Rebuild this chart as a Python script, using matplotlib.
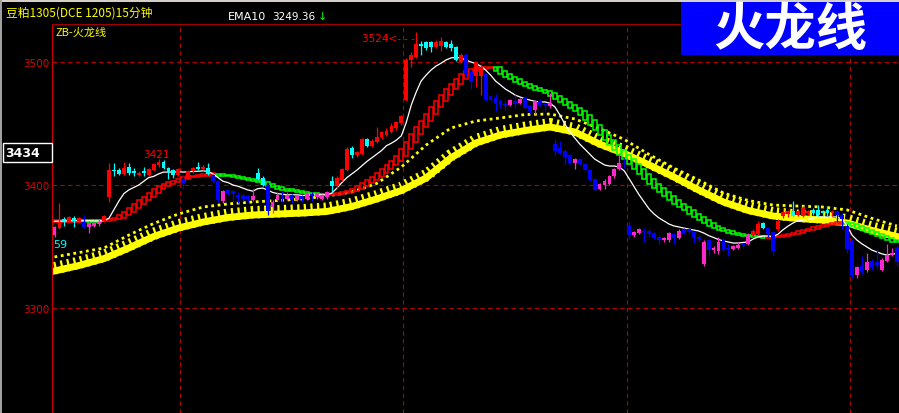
"""
豆粕1305 15分钟 K线 + 火龙线, redrawn from the screenshot
"""

import numpy as np
import matplotlib.pyplot as plt
from matplotlib.patches import Rectangle

# candles (one per 15 min bar)
opens = [3359, 3365, 3372, 3370, 3373, 3371, 3370, 3366, 3367, 3368, 3371,
         3390, 3412, 3412, 3409, 3415, 3411, 3408, 3411, 3408, 3412,
         3416, 3419, 3414, 3412, 3408, 3405, 3406, 3411, 3415, 3413,
         3414, 3408, 3403, 3387, 3396, 3395, 3392, 3392, 3391, 3388,
         3410, 3406, 3400, 3382, 3388, 3392, 3389, 3392, 3388, 3391,
         3389, 3393, 3390, 3389, 3390, 3403, 3399, 3404, 3412, 3430,
         3424, 3425, 3437, 3432, 3435, 3439, 3441, 3443, 3446, 3450,
         3469, 3502, 3504, 3515, 3516, 3516, 3512, 3513, 3516, 3515,
         3512, 3500, 3506, 3492, 3489, 3489, 3490, 3472, 3471, 3468,
         3466, 3465, 3468, 3467, 3471, 3464, 3461, 3468, 3466, 3464,
         3433, 3430, 3428, 3424, 3418, 3421, 3417, 3412, 3405, 3397,
         3400, 3401, 3407, 3413, 3418, 3367, 3359, 3361, 3363, 3363,
         3361, 3358, 3355, 3355, 3360, 3357, 3364, 3364, 3362, 3358,
         3336, 3355, 3347, 3346, 3355, 3349, 3348, 3349, 3352, 3352,
         3359, 3360, 3369, 3365, 3362, 3364, 3375, 3377, 3379, 3376,
         3375, 3377, 3380, 3380, 3379, 3380, 3377, 3379, 3376, 3367,
         3354, 3327, 3334, 3331, 3338, 3337, 3331, 3338, 3343, 3349]
highs = [3367, 3385, 3374, 3375, 3375, 3374, 3376, 3370, 3370, 3372, 3376,
         3418, 3418, 3414, 3419, 3418, 3414, 3411, 3415, 3414, 3418,
         3421, 3420, 3415, 3413, 3414, 3408, 3412, 3415, 3419, 3416,
         3418, 3409, 3404, 3396, 3397, 3396, 3394, 3393, 3392, 3397,
         3414, 3407, 3401, 3388, 3394, 3395, 3394, 3393, 3392, 3392,
         3395, 3394, 3394, 3393, 3395, 3407, 3407, 3414, 3431, 3432,
         3428, 3438, 3438, 3437, 3447, 3444, 3446, 3450, 3452, 3457,
         3503, 3508, 3524, 3517, 3517, 3517, 3518, 3520, 3517, 3518,
         3513, 3507, 3507, 3494, 3501, 3498, 3491, 3473, 3474, 3470,
         3468, 3470, 3473, 3471, 3472, 3465, 3469, 3470, 3467, 3475,
         3437, 3436, 3429, 3425, 3422, 3422, 3418, 3413, 3406, 3402,
         3405, 3408, 3414, 3426, 3422, 3371, 3363, 3365, 3365, 3364,
         3362, 3359, 3358, 3362, 3361, 3364, 3365, 3365, 3363, 3359,
         3355, 3356, 3350, 3358, 3357, 3352, 3351, 3354, 3353, 3361,
         3364, 3371, 3370, 3366, 3363, 3372, 3381, 3380, 3387, 3380,
         3383, 3380, 3381, 3384, 3380, 3383, 3380, 3380, 3377, 3368,
         3356, 3334, 3342, 3345, 3340, 3348, 3341, 3352, 3349, 3351]
lows = [3358, 3364, 3367, 3369, 3366, 3369, 3365, 3361, 3366, 3367, 3370,
        3386, 3407, 3408, 3408, 3408, 3407, 3407, 3407, 3407, 3411,
        3415, 3413, 3405, 3406, 3407, 3397, 3405, 3410, 3412, 3412,
        3408, 3402, 3386, 3385, 3392, 3386, 3385, 3387, 3386, 3387,
        3404, 3399, 3376, 3377, 3387, 3386, 3388, 3385, 3387, 3386,
        3388, 3387, 3389, 3388, 3389, 3394, 3397, 3403, 3411, 3422,
        3423, 3424, 3431, 3431, 3434, 3437, 3440, 3442, 3445, 3449,
        3468, 3496, 3503, 3506, 3510, 3508, 3511, 3509, 3511, 3509,
        3501, 3499, 3489, 3478, 3480, 3473, 3468, 3468, 3460, 3463,
        3461, 3464, 3463, 3466, 3462, 3458, 3458, 3464, 3460, 3463,
        3424, 3425, 3416, 3417, 3413, 3416, 3411, 3403, 3395, 3396,
        3397, 3400, 3406, 3412, 3414, 3356, 3358, 3360, 3354, 3358,
        3356, 3352, 3354, 3354, 3352, 3356, 3360, 3361, 3353, 3354,
        3334, 3342, 3345, 3344, 3346, 3342, 3347, 3348, 3349, 3351,
        3358, 3359, 3364, 3358, 3343, 3363, 3373, 3374, 3374, 3375,
        3374, 3376, 3376, 3375, 3375, 3375, 3375, 3370, 3364, 3345,
        3324, 3324, 3328, 3329, 3331, 3332, 3330, 3337, 3342, 3334]
closes = [3366, 3370, 3371, 3374, 3371, 3373, 3366, 3369, 3369, 3370, 3375,
          3412, 3411, 3409, 3414, 3410, 3410, 3410, 3410, 3413, 3417,
          3419, 3414, 3410, 3408, 3413, 3402, 3411, 3414, 3413, 3415,
          3409, 3403, 3388, 3395, 3393, 3393, 3390, 3389, 3389, 3391,
          3405, 3400, 3379, 3386, 3392, 3389, 3392, 3388, 3391, 3389,
          3393, 3391, 3393, 3392, 3394, 3399, 3406, 3413, 3429, 3424,
          3427, 3437, 3432, 3436, 3439, 3443, 3444, 3448, 3451, 3456,
          3502, 3506, 3515, 3513, 3511, 3512, 3516, 3517, 3512, 3511,
          3502, 3506, 3490, 3484, 3500, 3496, 3469, 3469, 3467, 3465,
          3464, 3469, 3466, 3470, 3463, 3460, 3468, 3465, 3465, 3467,
          3428, 3426, 3423, 3418, 3421, 3417, 3412, 3404, 3396, 3401,
          3403, 3407, 3413, 3418, 3417, 3359, 3362, 3364, 3362, 3360,
          3357, 3355, 3357, 3361, 3357, 3363, 3361, 3362, 3357, 3356,
          3354, 3347, 3349, 3354, 3348, 3348, 3350, 3351, 3351, 3359,
          3363, 3368, 3365, 3360, 3346, 3371, 3378, 3379, 3375, 3379,
          3381, 3379, 3377, 3376, 3377, 3377, 3379, 3376, 3372, 3348,
          3326, 3333, 3330, 3337, 3333, 3334, 3339, 3343, 3345, 3337]
# r = red, c = cyan, b = blue, m = magenta
candle_cols = ("mrcrcrbmmmr" "rccrccrcrr" "rcccrbrrcr" "cbbmbbbbbm"
               "ccbmmbmbmb" "mbmmmcrrrc" "rrcrrrrrrr" "rrrcccrrcc"
               "crbbrrbbbb" "bmbmbbmbbm" "bbbbmbbbbm" "mmmmbbmmbb"
               "bbmmbmbbbb" "mbmmbbmmbm" "rrcbbrrrcr" "rrccccrbbb"
               "bmbmbbmmmb")

# thin white line
fast_line = [3370.5, 3370.6, 3370.7, 3370.9, 3371.0, 3371.1, 3371.0, 3370.9, 3370.8, 3370.8, 3371.0,
             3373, 3380, 3387, 3393, 3396, 3398, 3400, 3403, 3406, 3407,
             3409, 3410.5, 3410.5, 3410.5, 3410.8, 3410.5, 3410.8, 3411, 3411.2, 3411.5,
             3411, 3409, 3406, 3403, 3402, 3400, 3399, 3397.5, 3396, 3395,
             3397, 3397.5, 3396, 3394, 3393, 3392.5, 3392, 3392, 3392, 3391.5,
             3391.5, 3392, 3392, 3392, 3392, 3393.5, 3397.5, 3402, 3406, 3409,
             3412, 3415.5, 3419, 3422, 3425, 3428, 3432, 3434, 3436.5, 3440,
             3451, 3465, 3475.6, 3484.6, 3489.4, 3493.5, 3496.7, 3499, 3501.6, 3503.3,
             3503.7, 3503.3, 3501.6, 3500, 3498.8, 3496.7, 3493.5, 3489.4, 3484.6, 3481.3,
             3478, 3475.6, 3473, 3471.5, 3470, 3469, 3468, 3467.5, 3467.5, 3466.5,
             3463.4, 3456.9, 3449.6, 3443.1, 3438.2, 3433.3, 3429.3, 3425.2, 3421.1, 3418.7,
             3416.3, 3415.4, 3415.4, 3414.6, 3411.4, 3404.9, 3398.4, 3391.9, 3386.2, 3380.5,
             3376.4, 3373.2, 3370.7, 3368.3, 3366.7, 3365.9, 3365, 3364.2, 3363.4, 3362.6,
             3361, 3358.9, 3357.3, 3355.7, 3354.5, 3353.7, 3352.8, 3352.8, 3353.3, 3353.7,
             3356.1, 3357.7, 3358.5, 3358.5, 3358, 3360, 3363.5, 3366.5, 3369, 3371,
             3371.5, 3372, 3373, 3374, 3374, 3374, 3374, 3374, 3372, 3366.5,
             3359, 3355, 3352, 3349.5, 3347, 3345.5, 3344, 3343, 3344, 3344]

# red / green box line
box_line = [3370.6, 3370.7, 3370.8, 3370.9, 3371.0, 3371.1, 3371.0, 3370.95, 3370.9, 3370.85, 3370.8,
            3371.5, 3372.5, 3373.2, 3375.5, 3378, 3381, 3384.5, 3388, 3390.5, 3393.5,
            3397, 3399, 3401, 3402.5, 3403.5, 3405, 3406.5, 3407, 3407.5, 3408,
            3408.3, 3408.6, 3409, 3408.2, 3407.7, 3407.2, 3406.5, 3405.7, 3405, 3404.1,
            3403.3, 3402.2, 3401, 3399.4, 3398, 3397, 3396.3, 3395.5, 3395, 3394.3,
            3393.6, 3393.1, 3392.7, 3392.3, 3392, 3392.3, 3392.7, 3393.5, 3394.3, 3395.5,
            3396.7, 3399, 3401.6, 3404, 3406.5, 3409.8, 3413, 3416.3, 3419.5, 3423.6,
            3429.3, 3435, 3441.5, 3447, 3452, 3457.7, 3463.4, 3468.3, 3473.2, 3478,
            3482, 3486.2, 3490.2, 3492.7, 3494.3, 3495.1, 3495.4, 3495.6, 3495.7, 3492.5,
            3490.2, 3488.2, 3486.2, 3484.1, 3482.1, 3480.5, 3478.9, 3477.6, 3476.4, 3474.4,
            3472.4, 3469.9, 3467.5, 3465, 3462.6, 3460.2, 3456.9, 3452.8, 3448.8, 3444.7,
            3440.7, 3436.6, 3432.5, 3428.5, 3424.4, 3421.1, 3417.1, 3413, 3408.9, 3404.9,
            3400.8, 3397.6, 3394.3, 3391.1, 3387.8, 3384.6, 3382.1, 3379.7, 3376.4, 3374,
            3371.5, 3369.1, 3366.7, 3365, 3363.4, 3362.2, 3361, 3360.2, 3359.3, 3358.9,
            3358.5, 3358.1, 3357.8, 3357.6, 3357.8, 3358.1, 3358.5, 3359.3, 3360.2, 3361,
            3362.2, 3363.4, 3364.6, 3365.9, 3366.7, 3367.5, 3368.3, 3369.1, 3369.9, 3369.5,
            3368.3, 3366.7, 3365, 3363.4, 3361.8, 3360.2, 3358.5, 3356.9, 3355.3, 3353.7]

# yellow band and the dotted line above it, read every 5 bars
slow_bars = list(range(0, 171, 5))
band_line = [3330.1, 3334.6, 3340.2, 3348.8, 3358.1, 3365.0, 3369.9, 3373.6, 3375.6, 3376.4,
             3377.2, 3378.5, 3382.5, 3388.6, 3395.5, 3405.7, 3422.0, 3434.1, 3440.7, 3444.3,
             3447.2, 3443.1, 3433.3, 3425.6, 3416.3, 3406.5, 3395.9, 3386.2, 3379.3, 3374.8,
             3372.8, 3371.5, 3369.1, 3363.0, 3358.1]
dot_line = [3341.5, 3345.1, 3348.8, 3359.3, 3368.7, 3376.4, 3382.1, 3384.6, 3386.2, 3387.4,
            3388.6, 3391.1, 3394.3, 3401.2, 3414.6, 3432.5, 3446.3, 3452.0, 3454.5, 3457.3,
            3457.7, 3453.7, 3445.9, 3437.0, 3424.8, 3413.8, 3404.1, 3393.5, 3387.4, 3383.7,
            3382.9, 3382.1, 3379.7, 3372.8, 3366.7]

y_ticks = [3300, 3400, 3500]
title = '豆粕1305(DCE 1205)15分钟'
cjk = ['Noto Sans CJK SC', 'DejaVu Sans']

W, H = 899, 414
fig = plt.figure(figsize=(W / 100, H / 100), dpi=100, facecolor='black')

def fx(px):
    return px / W

def fy(py):
    return 1 - py / H

ax = fig.add_axes([fx(52), 0, (W - 52) / W, (H - 25) / H])
ax.set_facecolor('black')
n = len(closes)
x = np.arange(n)
ax.set_xlim(-0.505, 170.43)
ax.set_ylim(3214.63, 3530.89)

for s in ['right', 'bottom']:
    ax.spines[s].set_visible(False)
ax.spines['left'].set_color('#d00000')
ax.spines['top'].set_color('#a00000')
ax.set_xticks([])
ax.set_yticks(y_ticks)
ax.set_yticklabels([str(v) for v in y_ticks])
ax.tick_params(axis='y', length=0, pad=2, labelsize=7.5, labelcolor='#e00000')

# dashed grid
grid = dict(color='#b00000', lw=0.8, ls=(0, (4, 3)), zorder=1)
for v in y_ticks:
    ax.axhline(v, **grid)
for g in [25.3, 70.3, 115.5, 160.5]:
    ax.axvline(g, **grid)

# 火龙线: dotted line + thick band with teeth on its upper side
band = np.array(band_line)
ax.plot(slow_bars, dot_line, color='#ffff00', lw=2.0, ls=(0, (1, 1.3)), zorder=2)
ax.plot(slow_bars, band, color='#ffff00', lw=5, zorder=2)
ax.plot(slow_bars, band + 2.2, color='#ffff00', lw=9, ls=(0, (0.18, 0.35)), zorder=2)

# hollow boxes, red going up, green going down
for i in range(n):
    a = box_line[max(i - 1, 0)]
    b = box_line[min(i + 1, n - 1)]
    lo, hi = min(a, b), max(a, b)
    if hi - lo < 1.4:
        mid = (lo + hi) / 2
        lo, hi = mid - 0.7, mid + 0.7
    col = '#ff0000' if b >= a else '#00ff00'
    ax.add_patch(Rectangle((i - 0.4, lo), 0.8, hi - lo, fill=False,
                           edgecolor=col, lw=1.1, zorder=3))

ax.plot(x, fast_line, color='white', lw=0.9, zorder=4)

# candles
cmap = {'r': '#ff0000', 'c': '#00ffff', 'b': '#0000ff', 'm': '#ff28c8'}
cols = [cmap[c] for c in candle_cols]
o = np.array(opens)
c = np.array(closes)
ax.vlines(x, lows, highs, colors=cols, lw=0.9, zorder=5)
ax.bar(x, np.maximum(np.abs(c - o), 0.8), bottom=np.minimum(o, c), width=0.78,
       color=cols, linewidth=0, zorder=6)

# high marks
i1 = int(np.argmax(highs[:56]))
ax.annotate(str(highs[i1]), xy=(i1, highs[i1]), xytext=(-1.5, 0),
            textcoords='offset points', ha='center', va='bottom',
            color='#ff0000', fontsize=7.5, zorder=7)
i2 = int(np.argmax(highs))
ax.annotate(str(highs[i2]) + '<- - -', xy=(i2, highs[i2]), xytext=(-1, -4),
            textcoords='offset points', ha='right', va='center',
            color='#ff0000', fontsize=7.5, zorder=7)

# header and side texts
fig.add_artist(Rectangle((0, fy(3)), 1, 3 / H, transform=fig.transFigure,
                         facecolor='#d4d0c8', edgecolor='none', zorder=5))
fig.add_artist(Rectangle((0, 0), 1.5 / W, 1, transform=fig.transFigure,
                         facecolor='#a0a0a0', edgecolor='none', zorder=5))
fig.text(fx(6), fy(13), title, color='#ffff00', fontsize=8.5, va='center', family=cjk)
fig.text(fx(228), fy(16.5), 'EMA10', color='white', fontsize=8, va='center')
fig.text(fx(272), fy(16.5), '3249.36', color='white', fontsize=7.5, va='center')
fig.text(fx(318), fy(16.5), '↓', color='#00ff00', fontsize=8, va='center')
fig.text(fx(56), fy(32.5), 'ZB-火龙线', color='#ffff00', fontsize=8, va='center', family=cjk)
fig.text(fx(53), fy(245), '59', color='#00ffff', fontsize=8, va='center')

fig.add_artist(Rectangle((fx(3), fy(163)), 49 / W, 19 / H, transform=fig.transFigure,
                         fill=False, edgecolor='white', lw=1, zorder=8))
fig.text(fx(5), fy(153.5), '3434', color='white', fontsize=9, fontweight='bold',
         va='center', zorder=9)

fig.add_artist(Rectangle((fx(681), fy(56)), (W - 681) / W, 53 / H,
                         transform=fig.transFigure, facecolor='#0000ff',
                         edgecolor='none', zorder=8))
fig.text(fx(790), fy(30), '火龙线', color='white', fontsize=37, fontweight='bold',
         ha='center', va='center', family=cjk, zorder=9)

fig.savefig('out.png', dpi=100, facecolor='black')
